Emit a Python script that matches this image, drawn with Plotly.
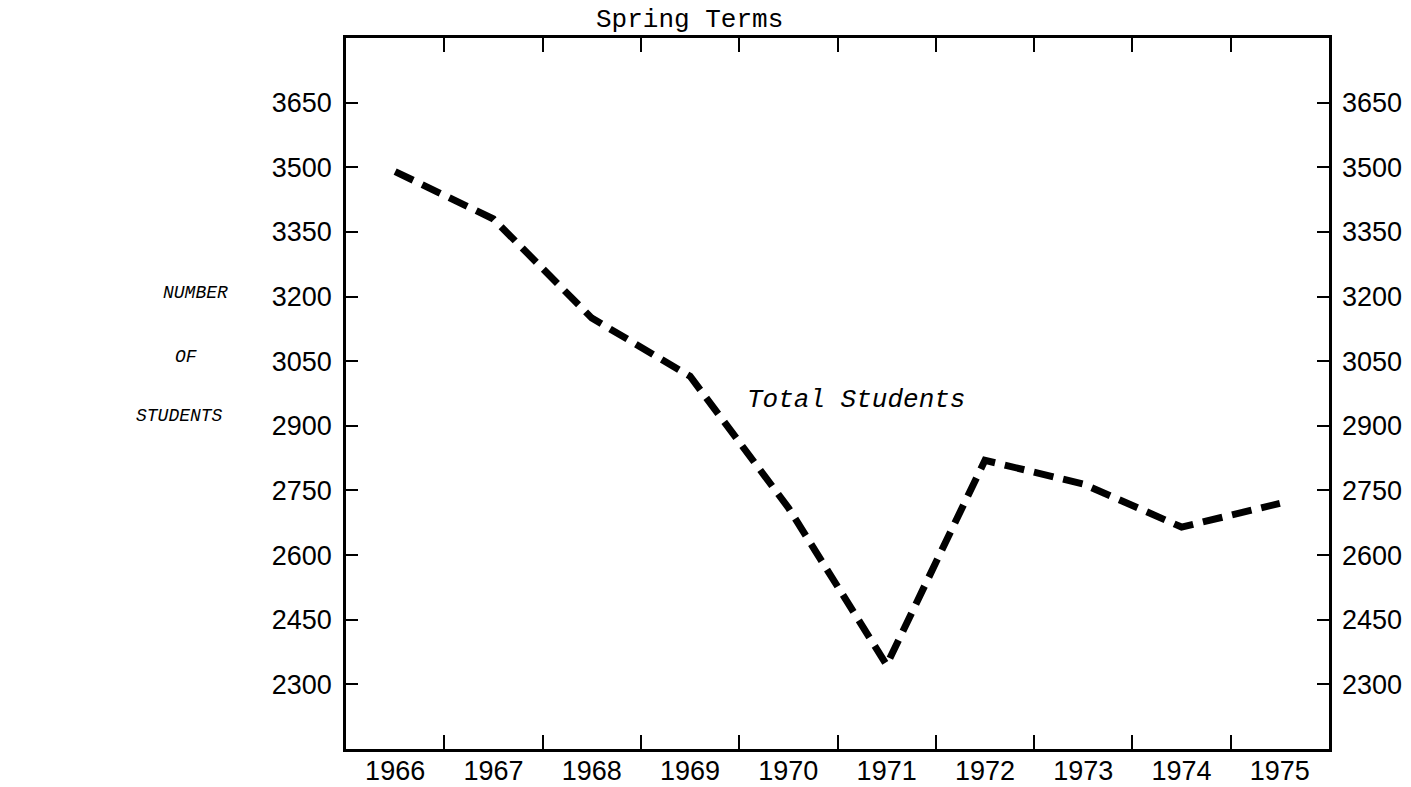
import plotly.graph_objects as go

years = ["1966", "1967", "1968", "1969", "1970", "1971", "1972", "1973", "1974", "1975"]
students = [3490, 3380, 3150, 3015, 2710, 2345, 2820, 2765, 2665, 2720]
y_ticks = [2300, 2450, 2600, 2750, 2900, 3050, 3200, 3350, 3500, 3650]
y_range = [2150, 3800]

tick_font = dict(family="Liberation Sans, Arial, sans-serif", size=27, color="black")

fig = go.Figure()
fig.add_trace(go.Scatter(
    x=years, y=students, mode="lines",
    line=dict(color="black", width=7, dash="20px,10px"),
    showlegend=False, hoverinfo="x+y",
))
# invisible companion trace so the right-hand axis labels are drawn
fig.add_trace(go.Scatter(
    x=years, y=students, mode="lines", xaxis="x2", yaxis="y2",
    line=dict(color="rgba(0,0,0,0)", width=1),
    showlegend=False, hoverinfo="skip",
))

fig.update_layout(
    width=1411, height=787,
    margin=dict(l=346, r=82, t=38, b=38, autoexpand=False),
    paper_bgcolor="white", plot_bgcolor="white",
    xaxis=dict(
        type="category", range=[-0.5, 9.5], tickson="boundaries",
        ticks="inside", ticklen=14, tickwidth=2, tickcolor="black",
        showline=True, linecolor="black", linewidth=2.5, mirror="ticks",
        showgrid=False, zeroline=False, tickfont=tick_font, automargin=False,
        ticklabelstandoff=-4,
    ),
    xaxis2=dict(
        type="category", range=[-0.5, 9.5], overlaying="x", anchor="y2",
        visible=False, showgrid=False, zeroline=False, automargin=False,
    ),
    yaxis=dict(
        range=y_range, tickvals=y_ticks,
        ticks="inside", ticklen=12, tickwidth=2, tickcolor="black",
        showline=True, linecolor="black", linewidth=2.5, mirror="ticks",
        showgrid=False, zeroline=False, tickfont=tick_font, automargin=False,
        ticklabelstandoff=6,
    ),
    yaxis2=dict(
        range=y_range, tickvals=y_ticks, overlaying="y", side="right",
        anchor="x2", ticks="", showline=False, showgrid=False, zeroline=False,
        tickfont=tick_font, automargin=False, ticklabelstandoff=12,
    ),
)

mono = "Liberation Mono, Courier New, monospace"
fig.add_annotation(text="Spring Terms", xref="paper", yref="paper",
                   x=(689 - 346) / 983, y=(749 - 20) / 711, showarrow=False,
                   xanchor="center", yanchor="middle",
                   font=dict(family=mono, size=26, color="black"))
fig.add_annotation(text="<i>Total Students</i>", xref="paper", yref="paper",
                   x=(856 - 346) / 983, y=(749 - 400) / 711, showarrow=False,
                   xanchor="center", yanchor="middle",
                   font=dict(family=mono, size=26, color="black"))
for txt, cx, cy in [("NUMBER", 195, 293), ("OF", 186, 357), ("STUDENTS", 179, 416)]:
    fig.add_annotation(text="<i>" + txt + "</i>", xref="paper", yref="paper",
                       x=(cx - 346) / 983, y=(749 - cy) / 711, showarrow=False,
                       xanchor="center", yanchor="middle",
                       font=dict(family=mono, size=18, color="black"))

fig.write_html(
    "out.html",
    config={"displayModeBar": False},
    post_script="document.body.style.margin='0';",
)
